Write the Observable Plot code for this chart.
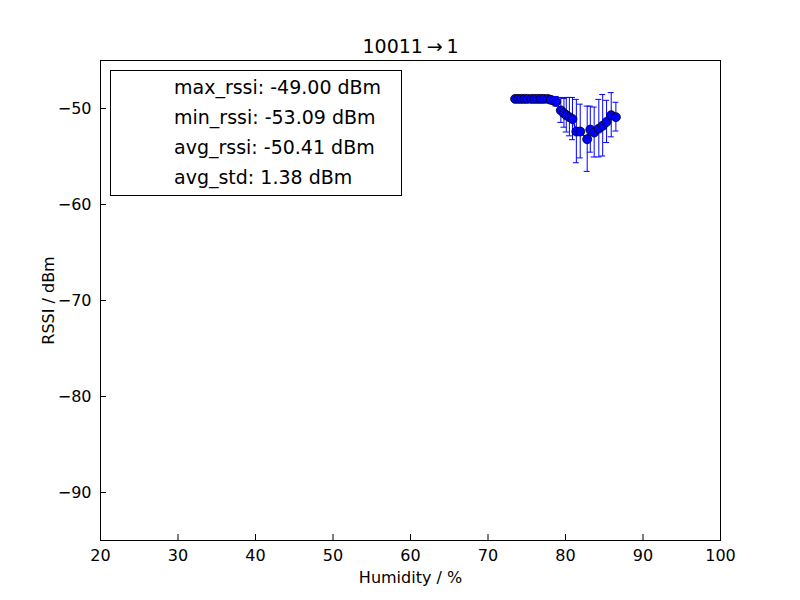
<!DOCTYPE html>
<html><head><meta charset="utf-8">
<script src="https://cdn.jsdelivr.net/npm/d3@7"></script>
<script src="https://cdn.jsdelivr.net/npm/@observablehq/plot@0.6"></script>
<style>body{margin:0;background:#fff;font-family:"DejaVu Sans";}#wrap{position:relative;width:800px;height:600px}
#leg{position:absolute;left:110px;top:70px;width:292px;height:126px;border:1px solid #000;background:#fff;font-size:19px;line-height:30px;padding-left:63px;box-sizing:border-box;padding-top:1px}</style>
</head><body><div id="wrap"><div id="chart"></div><div id="leg"></div></div>
<script>
const humidity=[73.5,73.9,74.3,74.7,75.1,75.6,76.0,76.4,76.8,77.2,77.7,78.1,78.5,78.8,79.4,79.8,80.1,80.5,80.9,81.4,81.9,82.8,83.2,83.7,84.3,84.8,85.3,85.9,86.5];
const rssi=[-49,-49,-49,-49,-49,-49,-49,-49,-49,-49,-49,-49.1,-49.2,-49.3,-50.2,-50.5,-50.7,-50.9,-51.1,-52.4,-52.4,-53.2,-52.2,-52.5,-52.1,-51.8,-51.4,-50.7,-50.9];
const std=[0,0,0,0,0,0,0,0,0,0,0,0.1,0.3,0.5,1.3,1.5,1.8,2.0,2.2,3.3,2.8,3.4,2.4,2.6,3.0,3.2,2.2,2.3,1.5];
const legendLines=["max_rssi: -49.00 dBm","min_rssi: -53.09 dBm","avg_rssi: -50.41 dBm","avg_std: 1.38 dBm"];
const data=humidity.map((h,i)=>({h,r:rssi[i],s:std[i]}));
const fmt=d=>d<0?"\u2212"+Math.abs(d):String(d);
const chart=Plot.plot({width:800,height:600,marginLeft:100,marginRight:80,marginTop:60,marginBottom:60,
style:{fontFamily:"DejaVu Sans",fontSize:"16px",color:"#000"},
x:{type:"linear",domain:[20,100],ticks:d3.range(20,101,10),label:"Humidity / %",labelArrow:false,labelAnchor:"center",labelOffset:42,tickSize:-6},
y:{domain:[-95,-45],ticks:d3.range(-90,-49,10),tickFormat:fmt,label:"RSSI / dBm",labelArrow:false,labelAnchor:"center",labelOffset:58,tickSize:-6},
marks:[
Plot.frame({stroke:"#000"}),
Plot.ruleX(data.filter(d=>d.s>0),{x:"h",y1:d=>d.r-d.s,y2:d=>d.r+d.s,stroke:"blue",strokeWidth:1}),
Plot.line(data,{x:"h",y:"r",stroke:"blue"}),
Plot.dot(data,{x:"h",y:"r",r:4.5,fill:"blue",stroke:"#000",strokeWidth:0.8}),
Plot.text(["10011\u2009\u2192\u20091"],{frameAnchor:"top",dy:-8,fontSize:19,lineAnchor:"bottom"})
]});
const capData=data.filter(d=>d.s>0).flatMap(d=>[{h:d.h,y:d.r-d.s},{h:d.h,y:d.r+d.s}]);
document.getElementById("chart").append(chart);
const xs=chart.scale("x"),ys=chart.scale("y");
const svg=d3.select(chart);
svg.append("g").selectAll("line").data(capData).join("line")
 .attr("x1",d=>xs.apply(d.h)-3).attr("x2",d=>xs.apply(d.h)+3)
 .attr("y1",d=>ys.apply(d.y)).attr("y2",d=>ys.apply(d.y)).attr("stroke","blue");
svg.selectAll("circle").raise();
document.getElementById("leg").innerHTML=legendLines.map(t=>`<div>${t}</div>`).join("");
</script></body></html>
